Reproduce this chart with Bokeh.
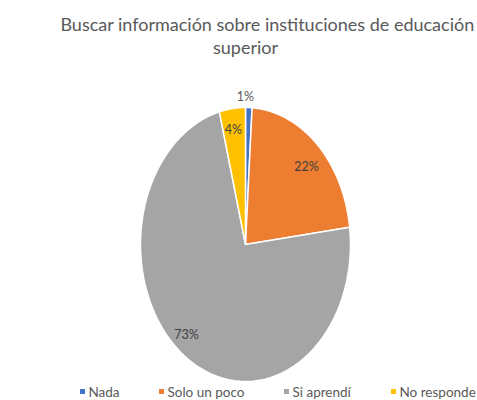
import numpy as np
from bokeh.plotting import figure
from bokeh.models import Range1d
from bokeh.core.properties import value
from bokeh.embed import file_html
from bokeh.resources import INLINE

# ---- data ----
categories = ["Nada", "Solo un poco", "Si aprendí", "No responde"]
percents = [1, 22, 73, 4]
colors = ["#4472C4", "#ED7D31", "#A5A5A5", "#FFC000"]
labels = ["1%", "22%", "73%", "4%"]
title_lines = ["Buscar información sobre instituciones de educación", "superior"]

# ---- layout (reference pixel coordinates) ----
W, H = 477, 400
cx, cy, rx, ry = 245, 244, 105, 137
label_pos = [(245, 96), (306, 166), (186, 334), (233, 129)]
legend_x = [82, 161, 286, 393]
legend_y = 391
FONT = "Lato"

p = figure(width=W, height=H, output_backend="svg", toolbar_location=None,
           x_range=Range1d(0, W), y_range=Range1d(H, 0),
           min_border=0, outline_line_color=None)
p.axis.visible = False
p.grid.visible = False
p.background_fill_color = "white"
p.border_fill_color = "white"

total = float(sum(percents))
cum = np.concatenate([[0], np.cumsum(percents)]) / total
xs, ys = [], []
for i in range(len(percents)):
    a = np.linspace(cum[i], cum[i + 1], 80) * 2 * np.pi
    xs.append(list(np.concatenate([[cx], cx + rx * np.sin(a), [cx]])))
    ys.append(list(np.concatenate([[cy], cy - ry * np.cos(a), [cy]])))
p.patches(xs, ys, fill_color=colors, line_color="white", line_width=1.5)

# data labels
lab_colors = ["#595959", "#404040", "#404040", "#404040"]
p.text(x=[q[0] for q in label_pos], y=[q[1] for q in label_pos], text=labels,
       text_font=value(FONT), text_font_size="12.5px", text_color=lab_colors,
       text_align="center", text_baseline="middle")

# title
p.text(x=[267], y=[23], text=[title_lines[0]], text_font=value(FONT),
       text_font_size="18px", text_color="#595959", text_align="center",
       text_baseline="middle")
p.text(x=[245], y=[46], text=[title_lines[1]], text_font=value(FONT),
       text_font_size="18px", text_color="#595959", text_align="center",
       text_baseline="middle")

# legend
p.rect(x=legend_x, y=[legend_y] * 4, width=5, height=5, fill_color=colors,
       line_color=None)
p.text(x=[v + 6 for v in legend_x], y=[legend_y] * 4, text=categories,
       text_font=value(FONT), text_font_size="13.5px", text_color="#595959",
       text_align="left", text_baseline="middle")

open("out.html", "w").write(file_html(p, INLINE))
